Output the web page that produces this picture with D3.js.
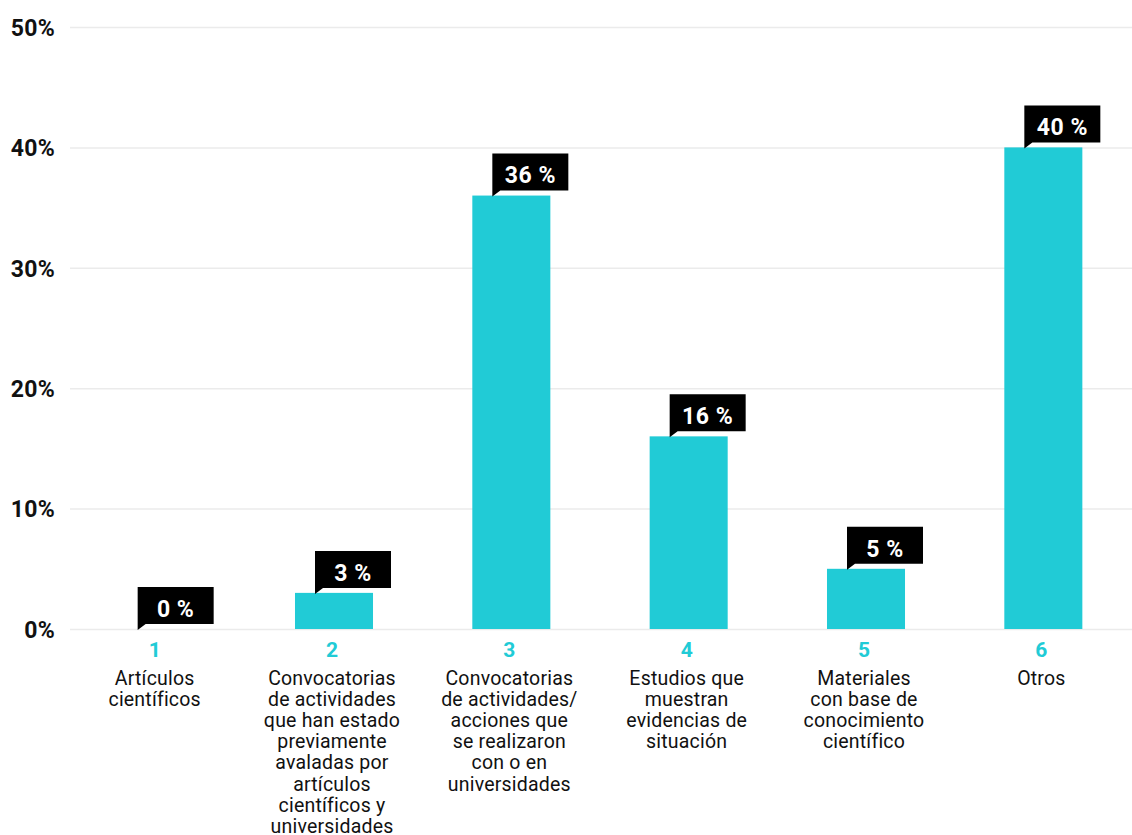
<!DOCTYPE html>
<html>
<head>
<meta charset="utf-8">
<script src="https://cdn.jsdelivr.net/npm/d3@7"></script>
<style>
  html, body { margin: 0; padding: 0; background: #fff; }
  svg { display: block; }
  text { font-family: Roboto, "Noto Sans", sans-serif; }
</style>
</head>
<body>
<svg id="chart" width="1132" height="835"></svg>
<script>
// Categories, their descriptions and percentage values
const categories = ["1", "2", "3", "4", "5", "6"];
const descriptions = [
  ["Artículos", "científicos"],
  ["Convocatorias", "de actividades", "que han estado", "previamente", "avaladas por", "artículos", "científicos y", "universidades"],
  ["Convocatorias", "de actividades/", "acciones que", "se realizaron", "con o en", "universidades"],
  ["Estudios que", "muestran", "evidencias de", "situación"],
  ["Materiales", "con base de", "conocimiento", "científico"],
  ["Otros"]
];
const values = [0, 3, 36, 16, 5, 40];
const yTicks = [0, 10, 20, 30, 40, 50];

const CYAN = "#21cbd6";
const svg = d3.select("#chart");

const x = d3.scaleBand()
  .domain(categories)
  .range([68, 1132])
  .paddingInner(0.56)
  .paddingOuter(0.28);

const y = d3.scaleLinear().domain([0, 50]).range([629, 27]);

// Gridlines and y tick labels
const yAxis = d3.axisLeft(y)
  .tickValues(yTicks)
  .tickSize(-(1132 - 70))
  .tickFormat(d => d + "%");

const gy = svg.append("g")
  .attr("transform", "translate(70,0)")
  .call(yAxis);
gy.select(".domain").remove();
gy.selectAll(".tick line").attr("stroke", "#ebebeb").attr("stroke-width", 1.5);
gy.selectAll(".tick text")
  .attr("x", -15)
  .attr("dy", "0.36em")
  .attr("fill", "#111")
  .style("font-size", "23px")
  .style("font-weight", "700")
  .style("letter-spacing", "0.3px")
  .style("font-family", "Roboto, sans-serif");

// Bars
svg.append("g").selectAll("rect")
  .data(values)
  .join("rect")
  .attr("x", (d, i) => x(categories[i]))
  .attr("y", d => y(d))
  .attr("width", x.bandwidth())
  .attr("height", d => y(0) - y(d))
  .attr("fill", CYAN);

// Value callouts: black box with a notch pointing down to the bar top
const boxW = 76, boxH = 37, gap = 5, notch = 8;
const callouts = svg.append("g").selectAll("g")
  .data(values)
  .join("g")
  .attr("transform", (d, i) => {
    const cx = x(categories[i]) + x.bandwidth() / 2;
    return `translate(${cx - 19},${y(d)})`;
  });

callouts.append("path")
  .attr("d", `M0,${-gap - boxH} H${boxW} V${-gap} H${notch} L0,1 Z`)
  .attr("fill", "#000");

callouts.append("text")
  .attr("x", boxW / 2)
  .attr("y", -gap - boxH / 2 + 3)
  .attr("dy", "0.36em")
  .attr("text-anchor", "middle")
  .attr("fill", "#fff")
  .style("font-size", "23px")
  .style("font-weight", "700")
  .style("letter-spacing", "0.5px")
  .text(d => d + " %");

// Category numbers and descriptions under the axis
const labels = svg.append("g").selectAll("g")
  .data(categories)
  .join("g")
  .attr("transform", d => `translate(${x(d) + x.bandwidth() / 2 - 2},0)`);

labels.append("text")
  .attr("y", 657)
  .attr("text-anchor", "middle")
  .attr("fill", CYAN)
  .style("font-size", "21px")
  .style("font-weight", "700")
  .text(d => d);

labels.append("text")
  .attr("text-anchor", "middle")
  .attr("fill", "#111")
  .style("font-size", "19.5px")
  .style("letter-spacing", "0.2px")
  .selectAll("tspan")
  .data((d, i) => descriptions[i])
  .join("tspan")
  .attr("x", 0)
  .attr("y", (d, j) => 685 + j * 21.1)
  .text(d => d);
</script>
</body>
</html>
